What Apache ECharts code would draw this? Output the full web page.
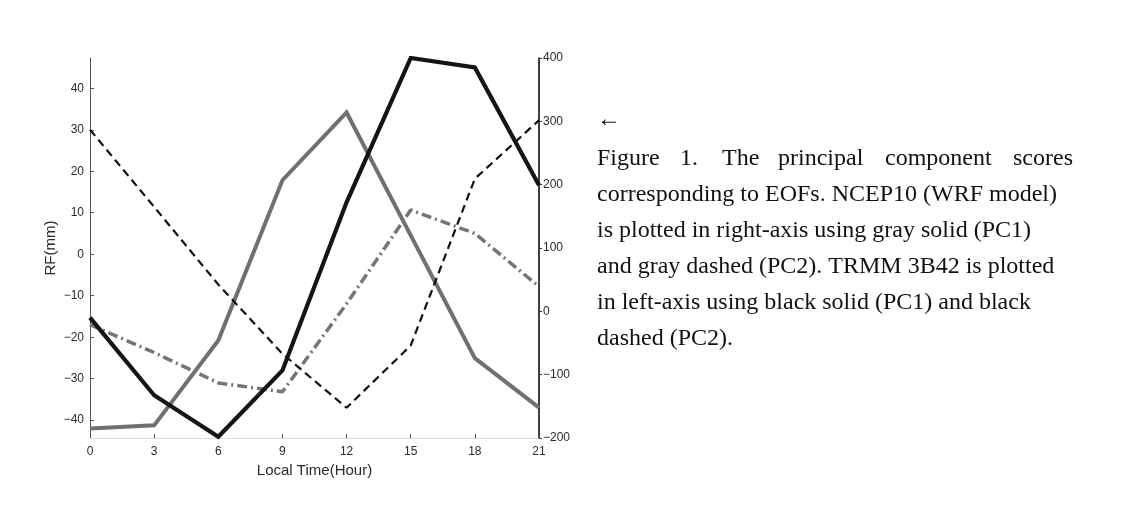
<!DOCTYPE html>
<html>
<head>
<meta charset="utf-8">
<script src="https://cdn.jsdelivr.net/npm/echarts@6/dist/echarts.min.js"></script>
<style>
html,body{margin:0;padding:0;background:#fff;}
#chart{width:1124px;height:509px;}
</style>
</head>
<body>
<div id="chart"></div>
<script>
// Data
var hours = [0, 3, 6, 9, 12, 15, 18, 21];
var xTicks = [0, 3, 6, 9, 12, 15, 18, 21];
var leftTicks = [-40, -30, -20, -10, 0, 10, 20, 30, 40];
var rightTicks = [-200, -100, 0, 100, 200, 300, 400];
// TRMM 3B42 (left axis, mm)
var trmmPC1 = [-15.3, -34, -44, -28, 12.5, 47.3, 45, 16.6];
var trmmPC2 = [30, 11.4, -7.3, -24, -37, -22, 18.2, 32.3];
// NCEP10 WRF model (right axis)
var ncepPC1 = [-185, -180, -46, 207, 314, 120, -74, -152];
var ncepPC2 = [-21, -65, -113, -127, 12, 160, 123, 39];

var captionLines = [
  null,
  "corresponding to EOFs. NCEP10 (WRF model)",
  "is plotted in right-axis using gray solid (PC1)",
  "and gray dashed (PC2). TRMM 3B42 is plotted",
  "in left-axis using black solid (PC1) and black",
  "dashed (PC2)."
];
var firstLineWords = ["Figure", "1.", "The", "principal", "component", "scores"];
var firstLineX = [597, 680, 722, 778, 885, 1013];

function pair(xs, ys) { return xs.map(function (x, i) { return [x, ys[i]]; }); }
function fmtNum(v) { return String(v).replace('-', '\u2212'); }

var serifFont = '"Liberation Serif", "DejaVu Serif", serif';
var sansFont = '"Liberation Sans", Arial, sans-serif';

var graphics = [];
graphics.push({ type: 'text', left: 597, top: 108, style: { text: '\u2190', font: '24px ' + serifFont, fill: '#111' } });
firstLineWords.forEach(function (w, i) {
  graphics.push({ type: 'text', x: firstLineX[i], y: 159, style: { text: w, font: '24px ' + serifFont, fill: '#111', verticalAlign: 'middle' } });
});
captionLines.forEach(function (t, i) {
  if (!t) return;
  graphics.push({ type: 'text', x: 597, y: 159 + 36 * i, style: { text: t, font: '24px ' + serifFont, fill: '#111', verticalAlign: 'middle' } });
});

var chart = echarts.init(document.getElementById('chart'));
chart.setOption({
  backgroundColor: '#fff',
  animation: false,
  grid: { left: 90, right: 585, top: 58, bottom: 71, containLabel: false },
  xAxis: {
    type: 'value', min: 0, max: 21, interval: 3,
    name: 'Local Time(Hour)', nameLocation: 'middle', nameGap: 22,
    nameTextStyle: { fontFamily: sansFont, fontSize: 15, color: '#2a2a2a' },
    axisLine: { show: true, onZero: false, lineStyle: { color: '#dcdcdc', width: 1 } },
    axisTick: { show: true, inside: true, length: 4, lineStyle: { color: '#555' } },
    axisLabel: { fontFamily: sansFont, fontSize: 12, color: '#2a2a2a', margin: 8 },
    splitLine: { show: false }
  },
  yAxis: [
    {
      type: 'value', position: 'left', min: -44.3, max: 47.3,
      name: 'RF(mm)', nameLocation: 'middle', nameGap: 32,
      nameTextStyle: { fontFamily: sansFont, fontSize: 15, color: '#2a2a2a' },
      axisLine: { show: true, onZero: false, lineStyle: { color: '#555', width: 1 } },
      axisTick: { show: true, inside: true, length: 4, customValues: leftTicks, lineStyle: { color: '#555' } },
      axisLabel: { fontFamily: sansFont, fontSize: 12, color: '#2a2a2a', margin: 6, customValues: leftTicks, formatter: fmtNum },
      splitLine: { show: false }
    },
    {
      type: 'value', position: 'right', min: -200, max: 400, interval: 100,
      axisLine: { show: true, onZero: false, lineStyle: { color: '#000', width: 1.5 } },
      axisTick: { show: true, inside: false, length: 3, lineStyle: { color: '#333' } },
      axisLabel: { fontFamily: sansFont, fontSize: 12, color: '#2a2a2a', margin: 4, formatter: fmtNum },
      splitLine: { show: false }
    }
  ],
  series: [
    { name: 'NCEP10 PC1', type: 'line', yAxisIndex: 1, data: pair(hours, ncepPC1), symbol: 'none',
      lineStyle: { color: '#707070', width: 4, join: 'miter' }, z: 2 },
    { name: 'NCEP10 PC2', type: 'line', yAxisIndex: 1, data: pair(hours, ncepPC2), symbol: 'none',
      lineStyle: { color: '#757575', width: 3.5, type: [10, 4, 2, 4] }, z: 2 },
    { name: 'TRMM PC2', type: 'line', yAxisIndex: 0, data: pair(hours, trmmPC2), symbol: 'none',
      lineStyle: { color: '#111', width: 2.2, type: [8, 5] }, z: 3 },
    { name: 'TRMM PC1', type: 'line', yAxisIndex: 0, data: pair(hours, trmmPC1), symbol: 'none',
      lineStyle: { color: '#151515', width: 4.2, join: 'miter' }, z: 4 }
  ],
  graphic: graphics
});
</script>
</body>
</html>
